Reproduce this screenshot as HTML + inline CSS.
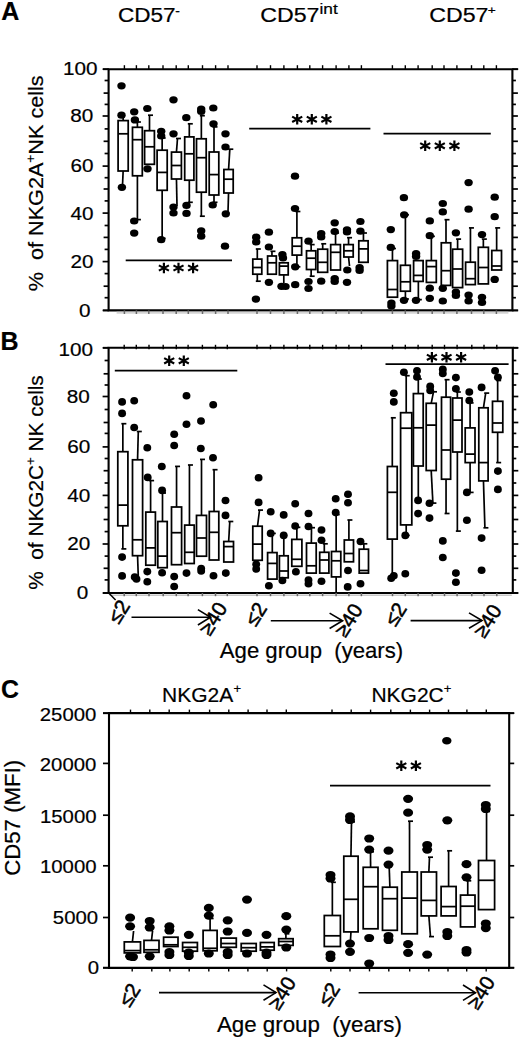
<!DOCTYPE html>
<html><head><meta charset="utf-8"><title>Figure</title>
<style>html,body{margin:0;padding:0;background:#fff;overflow:hidden;width:520px;height:1039px;} svg{display:block;} text{font-family:"Liberation Sans", sans-serif;fill:#000;white-space:pre;stroke:#000;stroke-width:0.2px;}</style>
</head><body>
<svg width="520" height="1039" viewBox="0 0 520 1039">
<rect width="520" height="1039" fill="#fff"/>
<path d="M108.60,69.20H512.40V310.40H108.60Z" stroke="#000" stroke-width="2.1" fill="none"/>
<line x1="103.00" y1="69.20" x2="108.60" y2="69.20" stroke="#000" stroke-width="1.8" stroke-linecap="butt"/>
<line x1="512.40" y1="69.20" x2="518.20" y2="69.20" stroke="#000" stroke-width="1.8" stroke-linecap="butt"/>
<line x1="512.40" y1="310.40" x2="518.20" y2="310.40" stroke="#000" stroke-width="1.8" stroke-linecap="butt"/>
<line x1="103.00" y1="310.40" x2="108.60" y2="310.40" stroke="#000" stroke-width="1.8" stroke-linecap="butt"/>
<line x1="102.60" y1="310.40" x2="108.60" y2="310.40" stroke="#000" stroke-width="1.7" stroke-linecap="butt"/>
<line x1="512.40" y1="310.40" x2="517.90" y2="310.40" stroke="#000" stroke-width="1.7" stroke-linecap="butt"/>
<line x1="104.60" y1="297.70" x2="108.60" y2="297.70" stroke="#000" stroke-width="1.7" stroke-linecap="butt"/>
<line x1="512.40" y1="297.70" x2="515.90" y2="297.70" stroke="#000" stroke-width="1.7" stroke-linecap="butt"/>
<line x1="103.60" y1="286.20" x2="108.60" y2="286.20" stroke="#000" stroke-width="1.7" stroke-linecap="butt"/>
<line x1="512.40" y1="286.20" x2="517.90" y2="286.20" stroke="#000" stroke-width="1.7" stroke-linecap="butt"/>
<line x1="104.60" y1="273.60" x2="108.60" y2="273.60" stroke="#000" stroke-width="1.7" stroke-linecap="butt"/>
<line x1="512.40" y1="273.60" x2="515.90" y2="273.60" stroke="#000" stroke-width="1.7" stroke-linecap="butt"/>
<line x1="102.60" y1="261.60" x2="108.60" y2="261.60" stroke="#000" stroke-width="1.7" stroke-linecap="butt"/>
<line x1="512.40" y1="261.60" x2="517.90" y2="261.60" stroke="#000" stroke-width="1.7" stroke-linecap="butt"/>
<line x1="104.60" y1="249.40" x2="108.60" y2="249.40" stroke="#000" stroke-width="1.7" stroke-linecap="butt"/>
<line x1="512.40" y1="249.40" x2="515.90" y2="249.40" stroke="#000" stroke-width="1.7" stroke-linecap="butt"/>
<line x1="103.60" y1="237.40" x2="108.60" y2="237.40" stroke="#000" stroke-width="1.7" stroke-linecap="butt"/>
<line x1="512.40" y1="237.40" x2="517.90" y2="237.40" stroke="#000" stroke-width="1.7" stroke-linecap="butt"/>
<line x1="104.60" y1="225.50" x2="108.60" y2="225.50" stroke="#000" stroke-width="1.7" stroke-linecap="butt"/>
<line x1="512.40" y1="225.50" x2="515.90" y2="225.50" stroke="#000" stroke-width="1.7" stroke-linecap="butt"/>
<line x1="102.60" y1="213.10" x2="108.60" y2="213.10" stroke="#000" stroke-width="1.7" stroke-linecap="butt"/>
<line x1="512.40" y1="213.10" x2="517.90" y2="213.10" stroke="#000" stroke-width="1.7" stroke-linecap="butt"/>
<line x1="104.60" y1="200.90" x2="108.60" y2="200.90" stroke="#000" stroke-width="1.7" stroke-linecap="butt"/>
<line x1="512.40" y1="200.90" x2="515.90" y2="200.90" stroke="#000" stroke-width="1.7" stroke-linecap="butt"/>
<line x1="103.60" y1="189.00" x2="108.60" y2="189.00" stroke="#000" stroke-width="1.7" stroke-linecap="butt"/>
<line x1="512.40" y1="189.00" x2="517.90" y2="189.00" stroke="#000" stroke-width="1.7" stroke-linecap="butt"/>
<line x1="104.60" y1="177.70" x2="108.60" y2="177.70" stroke="#000" stroke-width="1.7" stroke-linecap="butt"/>
<line x1="512.40" y1="177.70" x2="515.90" y2="177.70" stroke="#000" stroke-width="1.7" stroke-linecap="butt"/>
<line x1="102.60" y1="166.10" x2="108.60" y2="166.10" stroke="#000" stroke-width="1.7" stroke-linecap="butt"/>
<line x1="512.40" y1="166.10" x2="517.90" y2="166.10" stroke="#000" stroke-width="1.7" stroke-linecap="butt"/>
<line x1="104.60" y1="153.50" x2="108.60" y2="153.50" stroke="#000" stroke-width="1.7" stroke-linecap="butt"/>
<line x1="512.40" y1="153.50" x2="515.90" y2="153.50" stroke="#000" stroke-width="1.7" stroke-linecap="butt"/>
<line x1="103.60" y1="141.30" x2="108.60" y2="141.30" stroke="#000" stroke-width="1.7" stroke-linecap="butt"/>
<line x1="512.40" y1="141.30" x2="517.90" y2="141.30" stroke="#000" stroke-width="1.7" stroke-linecap="butt"/>
<line x1="104.60" y1="128.90" x2="108.60" y2="128.90" stroke="#000" stroke-width="1.7" stroke-linecap="butt"/>
<line x1="512.40" y1="128.90" x2="515.90" y2="128.90" stroke="#000" stroke-width="1.7" stroke-linecap="butt"/>
<line x1="102.60" y1="116.00" x2="108.60" y2="116.00" stroke="#000" stroke-width="1.7" stroke-linecap="butt"/>
<line x1="512.40" y1="116.00" x2="517.90" y2="116.00" stroke="#000" stroke-width="1.7" stroke-linecap="butt"/>
<line x1="104.60" y1="104.40" x2="108.60" y2="104.40" stroke="#000" stroke-width="1.7" stroke-linecap="butt"/>
<line x1="512.40" y1="104.40" x2="515.90" y2="104.40" stroke="#000" stroke-width="1.7" stroke-linecap="butt"/>
<line x1="103.60" y1="93.10" x2="108.60" y2="93.10" stroke="#000" stroke-width="1.7" stroke-linecap="butt"/>
<line x1="512.40" y1="93.10" x2="517.90" y2="93.10" stroke="#000" stroke-width="1.7" stroke-linecap="butt"/>
<line x1="104.60" y1="80.50" x2="108.60" y2="80.50" stroke="#000" stroke-width="1.7" stroke-linecap="butt"/>
<line x1="512.40" y1="80.50" x2="515.90" y2="80.50" stroke="#000" stroke-width="1.7" stroke-linecap="butt"/>
<line x1="102.60" y1="69.20" x2="108.60" y2="69.20" stroke="#000" stroke-width="1.7" stroke-linecap="butt"/>
<line x1="512.40" y1="69.20" x2="517.90" y2="69.20" stroke="#000" stroke-width="1.7" stroke-linecap="butt"/>
<line x1="124.40" y1="65.20" x2="124.40" y2="69.20" stroke="#000" stroke-width="1.4" stroke-linecap="butt"/>
<line x1="136.40" y1="65.20" x2="136.40" y2="69.20" stroke="#000" stroke-width="1.4" stroke-linecap="butt"/>
<line x1="148.80" y1="65.20" x2="148.80" y2="69.20" stroke="#000" stroke-width="1.4" stroke-linecap="butt"/>
<line x1="163.00" y1="65.20" x2="163.00" y2="69.20" stroke="#000" stroke-width="1.4" stroke-linecap="butt"/>
<line x1="176.20" y1="65.20" x2="176.20" y2="69.20" stroke="#000" stroke-width="1.4" stroke-linecap="butt"/>
<line x1="188.30" y1="65.20" x2="188.30" y2="69.20" stroke="#000" stroke-width="1.4" stroke-linecap="butt"/>
<line x1="202.50" y1="65.20" x2="202.50" y2="69.20" stroke="#000" stroke-width="1.4" stroke-linecap="butt"/>
<line x1="215.60" y1="65.20" x2="215.60" y2="69.20" stroke="#000" stroke-width="1.4" stroke-linecap="butt"/>
<line x1="228.00" y1="65.20" x2="228.00" y2="69.20" stroke="#000" stroke-width="1.4" stroke-linecap="butt"/>
<line x1="257.00" y1="65.20" x2="257.00" y2="69.20" stroke="#000" stroke-width="1.4" stroke-linecap="butt"/>
<line x1="270.50" y1="65.20" x2="270.50" y2="69.20" stroke="#000" stroke-width="1.4" stroke-linecap="butt"/>
<line x1="283.90" y1="65.20" x2="283.90" y2="69.20" stroke="#000" stroke-width="1.4" stroke-linecap="butt"/>
<line x1="297.40" y1="65.20" x2="297.40" y2="69.20" stroke="#000" stroke-width="1.4" stroke-linecap="butt"/>
<line x1="309.80" y1="65.20" x2="309.80" y2="69.20" stroke="#000" stroke-width="1.4" stroke-linecap="butt"/>
<line x1="322.60" y1="65.20" x2="322.60" y2="69.20" stroke="#000" stroke-width="1.4" stroke-linecap="butt"/>
<line x1="336.10" y1="65.20" x2="336.10" y2="69.20" stroke="#000" stroke-width="1.4" stroke-linecap="butt"/>
<line x1="348.90" y1="65.20" x2="348.90" y2="69.20" stroke="#000" stroke-width="1.4" stroke-linecap="butt"/>
<line x1="361.40" y1="65.20" x2="361.40" y2="69.20" stroke="#000" stroke-width="1.4" stroke-linecap="butt"/>
<line x1="392.40" y1="65.20" x2="392.40" y2="69.20" stroke="#000" stroke-width="1.4" stroke-linecap="butt"/>
<line x1="405.30" y1="65.20" x2="405.30" y2="69.20" stroke="#000" stroke-width="1.4" stroke-linecap="butt"/>
<line x1="418.10" y1="65.20" x2="418.10" y2="69.20" stroke="#000" stroke-width="1.4" stroke-linecap="butt"/>
<line x1="432.20" y1="65.20" x2="432.20" y2="69.20" stroke="#000" stroke-width="1.4" stroke-linecap="butt"/>
<line x1="444.00" y1="65.20" x2="444.00" y2="69.20" stroke="#000" stroke-width="1.4" stroke-linecap="butt"/>
<line x1="456.90" y1="65.20" x2="456.90" y2="69.20" stroke="#000" stroke-width="1.4" stroke-linecap="butt"/>
<line x1="471.50" y1="65.20" x2="471.50" y2="69.20" stroke="#000" stroke-width="1.4" stroke-linecap="butt"/>
<line x1="483.80" y1="65.20" x2="483.80" y2="69.20" stroke="#000" stroke-width="1.4" stroke-linecap="butt"/>
<line x1="496.40" y1="65.20" x2="496.40" y2="69.20" stroke="#000" stroke-width="1.4" stroke-linecap="butt"/>
<line x1="116.60" y1="312.80" x2="508.40" y2="312.80" stroke="#d4d4d4" stroke-width="2.0" stroke-linecap="butt"/>
<line x1="124.40" y1="310.40" x2="124.40" y2="314.00" stroke="#6a6a6a" stroke-width="1.5" stroke-linecap="butt"/>
<line x1="136.40" y1="310.40" x2="136.40" y2="314.00" stroke="#6a6a6a" stroke-width="1.5" stroke-linecap="butt"/>
<line x1="148.80" y1="310.40" x2="148.80" y2="314.00" stroke="#6a6a6a" stroke-width="1.5" stroke-linecap="butt"/>
<line x1="163.00" y1="310.40" x2="163.00" y2="314.00" stroke="#6a6a6a" stroke-width="1.5" stroke-linecap="butt"/>
<line x1="176.20" y1="310.40" x2="176.20" y2="314.00" stroke="#6a6a6a" stroke-width="1.5" stroke-linecap="butt"/>
<line x1="188.30" y1="310.40" x2="188.30" y2="314.00" stroke="#6a6a6a" stroke-width="1.5" stroke-linecap="butt"/>
<line x1="202.50" y1="310.40" x2="202.50" y2="314.00" stroke="#6a6a6a" stroke-width="1.5" stroke-linecap="butt"/>
<line x1="215.60" y1="310.40" x2="215.60" y2="314.00" stroke="#6a6a6a" stroke-width="1.5" stroke-linecap="butt"/>
<line x1="228.00" y1="310.40" x2="228.00" y2="314.00" stroke="#6a6a6a" stroke-width="1.5" stroke-linecap="butt"/>
<line x1="257.00" y1="310.40" x2="257.00" y2="314.00" stroke="#6a6a6a" stroke-width="1.5" stroke-linecap="butt"/>
<line x1="270.50" y1="310.40" x2="270.50" y2="314.00" stroke="#6a6a6a" stroke-width="1.5" stroke-linecap="butt"/>
<line x1="283.90" y1="310.40" x2="283.90" y2="314.00" stroke="#6a6a6a" stroke-width="1.5" stroke-linecap="butt"/>
<line x1="297.40" y1="310.40" x2="297.40" y2="314.00" stroke="#6a6a6a" stroke-width="1.5" stroke-linecap="butt"/>
<line x1="309.80" y1="310.40" x2="309.80" y2="314.00" stroke="#6a6a6a" stroke-width="1.5" stroke-linecap="butt"/>
<line x1="322.60" y1="310.40" x2="322.60" y2="314.00" stroke="#6a6a6a" stroke-width="1.5" stroke-linecap="butt"/>
<line x1="336.10" y1="310.40" x2="336.10" y2="314.00" stroke="#6a6a6a" stroke-width="1.5" stroke-linecap="butt"/>
<line x1="348.90" y1="310.40" x2="348.90" y2="314.00" stroke="#6a6a6a" stroke-width="1.5" stroke-linecap="butt"/>
<line x1="361.40" y1="310.40" x2="361.40" y2="314.00" stroke="#6a6a6a" stroke-width="1.5" stroke-linecap="butt"/>
<line x1="392.40" y1="310.40" x2="392.40" y2="314.00" stroke="#6a6a6a" stroke-width="1.5" stroke-linecap="butt"/>
<line x1="405.30" y1="310.40" x2="405.30" y2="314.00" stroke="#6a6a6a" stroke-width="1.5" stroke-linecap="butt"/>
<line x1="418.10" y1="310.40" x2="418.10" y2="314.00" stroke="#6a6a6a" stroke-width="1.5" stroke-linecap="butt"/>
<line x1="432.20" y1="310.40" x2="432.20" y2="314.00" stroke="#6a6a6a" stroke-width="1.5" stroke-linecap="butt"/>
<line x1="444.00" y1="310.40" x2="444.00" y2="314.00" stroke="#6a6a6a" stroke-width="1.5" stroke-linecap="butt"/>
<line x1="456.90" y1="310.40" x2="456.90" y2="314.00" stroke="#6a6a6a" stroke-width="1.5" stroke-linecap="butt"/>
<line x1="471.50" y1="310.40" x2="471.50" y2="314.00" stroke="#6a6a6a" stroke-width="1.5" stroke-linecap="butt"/>
<line x1="483.80" y1="310.40" x2="483.80" y2="314.00" stroke="#6a6a6a" stroke-width="1.5" stroke-linecap="butt"/>
<line x1="496.40" y1="310.40" x2="496.40" y2="314.00" stroke="#6a6a6a" stroke-width="1.5" stroke-linecap="butt"/>
<text transform="translate(80.15,74.90) scale(1.120,1)" font-size="18.5" font-weight="normal" text-anchor="middle" fill="#000">100</text>
<text transform="translate(81.70,121.60) scale(1.120,1)" font-size="18.5" font-weight="normal" text-anchor="middle" fill="#000">80</text>
<text transform="translate(81.95,172.10) scale(1.120,1)" font-size="18.5" font-weight="normal" text-anchor="middle" fill="#000">60</text>
<text transform="translate(82.00,219.90) scale(1.120,1)" font-size="18.5" font-weight="normal" text-anchor="middle" fill="#000">40</text>
<text transform="translate(82.00,268.20) scale(1.120,1)" font-size="18.5" font-weight="normal" text-anchor="middle" fill="#000">20</text>
<text transform="translate(84.70,316.90) scale(1.120,1)" font-size="18.5" font-weight="normal" text-anchor="middle" fill="#000">0</text>
<path d="M108.60,347.80H512.80V593.00H108.60Z" stroke="#000" stroke-width="2.1" fill="none"/>
<line x1="103.00" y1="347.80" x2="108.60" y2="347.80" stroke="#000" stroke-width="1.8" stroke-linecap="butt"/>
<line x1="512.80" y1="347.80" x2="518.20" y2="347.80" stroke="#000" stroke-width="1.8" stroke-linecap="butt"/>
<line x1="512.80" y1="593.00" x2="518.20" y2="593.00" stroke="#000" stroke-width="1.8" stroke-linecap="butt"/>
<line x1="103.00" y1="593.00" x2="108.60" y2="593.00" stroke="#000" stroke-width="1.8" stroke-linecap="butt"/>
<line x1="102.60" y1="593.00" x2="108.60" y2="593.00" stroke="#000" stroke-width="1.7" stroke-linecap="butt"/>
<line x1="512.80" y1="593.00" x2="518.30" y2="593.00" stroke="#000" stroke-width="1.7" stroke-linecap="butt"/>
<line x1="104.60" y1="579.90" x2="108.60" y2="579.90" stroke="#000" stroke-width="1.7" stroke-linecap="butt"/>
<line x1="512.80" y1="579.90" x2="516.30" y2="579.90" stroke="#000" stroke-width="1.7" stroke-linecap="butt"/>
<line x1="103.60" y1="568.30" x2="108.60" y2="568.30" stroke="#000" stroke-width="1.7" stroke-linecap="butt"/>
<line x1="512.80" y1="568.30" x2="518.30" y2="568.30" stroke="#000" stroke-width="1.7" stroke-linecap="butt"/>
<line x1="104.60" y1="556.10" x2="108.60" y2="556.10" stroke="#000" stroke-width="1.7" stroke-linecap="butt"/>
<line x1="512.80" y1="556.10" x2="516.30" y2="556.10" stroke="#000" stroke-width="1.7" stroke-linecap="butt"/>
<line x1="102.60" y1="544.00" x2="108.60" y2="544.00" stroke="#000" stroke-width="1.7" stroke-linecap="butt"/>
<line x1="512.80" y1="544.00" x2="518.30" y2="544.00" stroke="#000" stroke-width="1.7" stroke-linecap="butt"/>
<line x1="104.60" y1="531.60" x2="108.60" y2="531.60" stroke="#000" stroke-width="1.7" stroke-linecap="butt"/>
<line x1="512.80" y1="531.60" x2="516.30" y2="531.60" stroke="#000" stroke-width="1.7" stroke-linecap="butt"/>
<line x1="103.60" y1="519.50" x2="108.60" y2="519.50" stroke="#000" stroke-width="1.7" stroke-linecap="butt"/>
<line x1="512.80" y1="519.50" x2="518.30" y2="519.50" stroke="#000" stroke-width="1.7" stroke-linecap="butt"/>
<line x1="104.60" y1="507.50" x2="108.60" y2="507.50" stroke="#000" stroke-width="1.7" stroke-linecap="butt"/>
<line x1="512.80" y1="507.50" x2="516.30" y2="507.50" stroke="#000" stroke-width="1.7" stroke-linecap="butt"/>
<line x1="102.60" y1="495.40" x2="108.60" y2="495.40" stroke="#000" stroke-width="1.7" stroke-linecap="butt"/>
<line x1="512.80" y1="495.40" x2="518.30" y2="495.40" stroke="#000" stroke-width="1.7" stroke-linecap="butt"/>
<line x1="104.60" y1="483.00" x2="108.60" y2="483.00" stroke="#000" stroke-width="1.7" stroke-linecap="butt"/>
<line x1="512.80" y1="483.00" x2="516.30" y2="483.00" stroke="#000" stroke-width="1.7" stroke-linecap="butt"/>
<line x1="103.60" y1="470.70" x2="108.60" y2="470.70" stroke="#000" stroke-width="1.7" stroke-linecap="butt"/>
<line x1="512.80" y1="470.70" x2="518.30" y2="470.70" stroke="#000" stroke-width="1.7" stroke-linecap="butt"/>
<line x1="104.60" y1="458.50" x2="108.60" y2="458.50" stroke="#000" stroke-width="1.7" stroke-linecap="butt"/>
<line x1="512.80" y1="458.50" x2="516.30" y2="458.50" stroke="#000" stroke-width="1.7" stroke-linecap="butt"/>
<line x1="102.60" y1="446.90" x2="108.60" y2="446.90" stroke="#000" stroke-width="1.7" stroke-linecap="butt"/>
<line x1="512.80" y1="446.90" x2="518.30" y2="446.90" stroke="#000" stroke-width="1.7" stroke-linecap="butt"/>
<line x1="104.60" y1="433.40" x2="108.60" y2="433.40" stroke="#000" stroke-width="1.7" stroke-linecap="butt"/>
<line x1="512.80" y1="433.40" x2="516.30" y2="433.40" stroke="#000" stroke-width="1.7" stroke-linecap="butt"/>
<line x1="103.60" y1="422.50" x2="108.60" y2="422.50" stroke="#000" stroke-width="1.7" stroke-linecap="butt"/>
<line x1="512.80" y1="422.50" x2="518.30" y2="422.50" stroke="#000" stroke-width="1.7" stroke-linecap="butt"/>
<line x1="104.60" y1="409.50" x2="108.60" y2="409.50" stroke="#000" stroke-width="1.7" stroke-linecap="butt"/>
<line x1="512.80" y1="409.50" x2="516.30" y2="409.50" stroke="#000" stroke-width="1.7" stroke-linecap="butt"/>
<line x1="102.60" y1="396.50" x2="108.60" y2="396.50" stroke="#000" stroke-width="1.7" stroke-linecap="butt"/>
<line x1="512.80" y1="396.50" x2="518.30" y2="396.50" stroke="#000" stroke-width="1.7" stroke-linecap="butt"/>
<line x1="104.60" y1="385.00" x2="108.60" y2="385.00" stroke="#000" stroke-width="1.7" stroke-linecap="butt"/>
<line x1="512.80" y1="385.00" x2="516.30" y2="385.00" stroke="#000" stroke-width="1.7" stroke-linecap="butt"/>
<line x1="103.60" y1="373.80" x2="108.60" y2="373.80" stroke="#000" stroke-width="1.7" stroke-linecap="butt"/>
<line x1="512.80" y1="373.80" x2="518.30" y2="373.80" stroke="#000" stroke-width="1.7" stroke-linecap="butt"/>
<line x1="104.60" y1="360.50" x2="108.60" y2="360.50" stroke="#000" stroke-width="1.7" stroke-linecap="butt"/>
<line x1="512.80" y1="360.50" x2="516.30" y2="360.50" stroke="#000" stroke-width="1.7" stroke-linecap="butt"/>
<line x1="102.60" y1="347.80" x2="108.60" y2="347.80" stroke="#000" stroke-width="1.7" stroke-linecap="butt"/>
<line x1="512.80" y1="347.80" x2="518.30" y2="347.80" stroke="#000" stroke-width="1.7" stroke-linecap="butt"/>
<line x1="124.20" y1="344.80" x2="124.20" y2="349.30" stroke="#000" stroke-width="1.4" stroke-linecap="butt"/>
<line x1="136.30" y1="344.80" x2="136.30" y2="349.30" stroke="#000" stroke-width="1.4" stroke-linecap="butt"/>
<line x1="149.00" y1="344.80" x2="149.00" y2="349.30" stroke="#000" stroke-width="1.4" stroke-linecap="butt"/>
<line x1="163.20" y1="344.80" x2="163.20" y2="349.30" stroke="#000" stroke-width="1.4" stroke-linecap="butt"/>
<line x1="176.30" y1="344.80" x2="176.30" y2="349.30" stroke="#000" stroke-width="1.4" stroke-linecap="butt"/>
<line x1="188.10" y1="344.80" x2="188.10" y2="349.30" stroke="#000" stroke-width="1.4" stroke-linecap="butt"/>
<line x1="202.40" y1="344.80" x2="202.40" y2="349.30" stroke="#000" stroke-width="1.4" stroke-linecap="butt"/>
<line x1="215.50" y1="344.80" x2="215.50" y2="349.30" stroke="#000" stroke-width="1.4" stroke-linecap="butt"/>
<line x1="227.30" y1="344.80" x2="227.30" y2="349.30" stroke="#000" stroke-width="1.4" stroke-linecap="butt"/>
<line x1="257.00" y1="344.80" x2="257.00" y2="349.30" stroke="#000" stroke-width="1.4" stroke-linecap="butt"/>
<line x1="270.50" y1="344.80" x2="270.50" y2="349.30" stroke="#000" stroke-width="1.4" stroke-linecap="butt"/>
<line x1="283.90" y1="344.80" x2="283.90" y2="349.30" stroke="#000" stroke-width="1.4" stroke-linecap="butt"/>
<line x1="297.40" y1="344.80" x2="297.40" y2="349.30" stroke="#000" stroke-width="1.4" stroke-linecap="butt"/>
<line x1="309.80" y1="344.80" x2="309.80" y2="349.30" stroke="#000" stroke-width="1.4" stroke-linecap="butt"/>
<line x1="322.60" y1="344.80" x2="322.60" y2="349.30" stroke="#000" stroke-width="1.4" stroke-linecap="butt"/>
<line x1="336.10" y1="344.80" x2="336.10" y2="349.30" stroke="#000" stroke-width="1.4" stroke-linecap="butt"/>
<line x1="348.90" y1="344.80" x2="348.90" y2="349.30" stroke="#000" stroke-width="1.4" stroke-linecap="butt"/>
<line x1="361.40" y1="344.80" x2="361.40" y2="349.30" stroke="#000" stroke-width="1.4" stroke-linecap="butt"/>
<line x1="392.50" y1="344.80" x2="392.50" y2="349.30" stroke="#000" stroke-width="1.4" stroke-linecap="butt"/>
<line x1="405.30" y1="344.80" x2="405.30" y2="349.30" stroke="#000" stroke-width="1.4" stroke-linecap="butt"/>
<line x1="418.10" y1="344.80" x2="418.10" y2="349.30" stroke="#000" stroke-width="1.4" stroke-linecap="butt"/>
<line x1="432.20" y1="344.80" x2="432.20" y2="349.30" stroke="#000" stroke-width="1.4" stroke-linecap="butt"/>
<line x1="444.50" y1="344.80" x2="444.50" y2="349.30" stroke="#000" stroke-width="1.4" stroke-linecap="butt"/>
<line x1="457.10" y1="344.80" x2="457.10" y2="349.30" stroke="#000" stroke-width="1.4" stroke-linecap="butt"/>
<line x1="471.80" y1="344.80" x2="471.80" y2="349.30" stroke="#000" stroke-width="1.4" stroke-linecap="butt"/>
<line x1="484.00" y1="344.80" x2="484.00" y2="349.30" stroke="#000" stroke-width="1.4" stroke-linecap="butt"/>
<line x1="496.80" y1="344.80" x2="496.80" y2="349.30" stroke="#000" stroke-width="1.4" stroke-linecap="butt"/>
<line x1="109.60" y1="595.20" x2="511.80" y2="595.20" stroke="#c8c8c8" stroke-width="1.6" stroke-linecap="butt"/>
<line x1="124.20" y1="593.00" x2="124.20" y2="596.20" stroke="#666" stroke-width="1.5" stroke-linecap="butt"/>
<line x1="136.30" y1="593.00" x2="136.30" y2="596.20" stroke="#666" stroke-width="1.5" stroke-linecap="butt"/>
<line x1="149.00" y1="593.00" x2="149.00" y2="596.20" stroke="#666" stroke-width="1.5" stroke-linecap="butt"/>
<line x1="163.20" y1="593.00" x2="163.20" y2="596.20" stroke="#666" stroke-width="1.5" stroke-linecap="butt"/>
<line x1="176.30" y1="593.00" x2="176.30" y2="596.20" stroke="#666" stroke-width="1.5" stroke-linecap="butt"/>
<line x1="188.10" y1="593.00" x2="188.10" y2="596.20" stroke="#666" stroke-width="1.5" stroke-linecap="butt"/>
<line x1="202.40" y1="593.00" x2="202.40" y2="596.20" stroke="#666" stroke-width="1.5" stroke-linecap="butt"/>
<line x1="215.50" y1="593.00" x2="215.50" y2="596.20" stroke="#666" stroke-width="1.5" stroke-linecap="butt"/>
<line x1="227.30" y1="593.00" x2="227.30" y2="596.20" stroke="#666" stroke-width="1.5" stroke-linecap="butt"/>
<line x1="257.00" y1="593.00" x2="257.00" y2="596.20" stroke="#666" stroke-width="1.5" stroke-linecap="butt"/>
<line x1="270.50" y1="593.00" x2="270.50" y2="596.20" stroke="#666" stroke-width="1.5" stroke-linecap="butt"/>
<line x1="283.90" y1="593.00" x2="283.90" y2="596.20" stroke="#666" stroke-width="1.5" stroke-linecap="butt"/>
<line x1="297.40" y1="593.00" x2="297.40" y2="596.20" stroke="#666" stroke-width="1.5" stroke-linecap="butt"/>
<line x1="309.80" y1="593.00" x2="309.80" y2="596.20" stroke="#666" stroke-width="1.5" stroke-linecap="butt"/>
<line x1="322.60" y1="593.00" x2="322.60" y2="596.20" stroke="#666" stroke-width="1.5" stroke-linecap="butt"/>
<line x1="336.10" y1="593.00" x2="336.10" y2="596.20" stroke="#666" stroke-width="1.5" stroke-linecap="butt"/>
<line x1="348.90" y1="593.00" x2="348.90" y2="596.20" stroke="#666" stroke-width="1.5" stroke-linecap="butt"/>
<line x1="361.40" y1="593.00" x2="361.40" y2="596.20" stroke="#666" stroke-width="1.5" stroke-linecap="butt"/>
<line x1="392.50" y1="593.00" x2="392.50" y2="596.20" stroke="#666" stroke-width="1.5" stroke-linecap="butt"/>
<line x1="405.30" y1="593.00" x2="405.30" y2="596.20" stroke="#666" stroke-width="1.5" stroke-linecap="butt"/>
<line x1="418.10" y1="593.00" x2="418.10" y2="596.20" stroke="#666" stroke-width="1.5" stroke-linecap="butt"/>
<line x1="432.20" y1="593.00" x2="432.20" y2="596.20" stroke="#666" stroke-width="1.5" stroke-linecap="butt"/>
<line x1="444.50" y1="593.00" x2="444.50" y2="596.20" stroke="#666" stroke-width="1.5" stroke-linecap="butt"/>
<line x1="457.10" y1="593.00" x2="457.10" y2="596.20" stroke="#666" stroke-width="1.5" stroke-linecap="butt"/>
<line x1="471.80" y1="593.00" x2="471.80" y2="596.20" stroke="#666" stroke-width="1.5" stroke-linecap="butt"/>
<line x1="484.00" y1="593.00" x2="484.00" y2="596.20" stroke="#666" stroke-width="1.5" stroke-linecap="butt"/>
<line x1="496.80" y1="593.00" x2="496.80" y2="596.20" stroke="#666" stroke-width="1.5" stroke-linecap="butt"/>
<text transform="translate(75.85,355.60) scale(1.120,1)" font-size="18.5" font-weight="normal" text-anchor="middle" fill="#000">100</text>
<text transform="translate(78.25,402.75) scale(1.120,1)" font-size="18.5" font-weight="normal" text-anchor="middle" fill="#000">80</text>
<text transform="translate(78.75,453.35) scale(1.120,1)" font-size="18.5" font-weight="normal" text-anchor="middle" fill="#000">60</text>
<text transform="translate(78.75,501.95) scale(1.120,1)" font-size="18.5" font-weight="normal" text-anchor="middle" fill="#000">40</text>
<text transform="translate(78.75,550.25) scale(1.120,1)" font-size="18.5" font-weight="normal" text-anchor="middle" fill="#000">20</text>
<text transform="translate(82.60,598.60) scale(1.120,1)" font-size="18.5" font-weight="normal" text-anchor="middle" fill="#000">0</text>
<path d="M109.00,713.10H509.20V967.90H109.00Z" stroke="#000" stroke-width="2.1" fill="none"/>
<line x1="103.00" y1="713.10" x2="109.00" y2="713.10" stroke="#000" stroke-width="1.8" stroke-linecap="butt"/>
<line x1="509.20" y1="713.10" x2="514.20" y2="713.10" stroke="#000" stroke-width="1.8" stroke-linecap="butt"/>
<line x1="509.20" y1="967.90" x2="514.20" y2="967.90" stroke="#000" stroke-width="1.8" stroke-linecap="butt"/>
<line x1="103.00" y1="967.90" x2="109.00" y2="967.90" stroke="#000" stroke-width="1.8" stroke-linecap="butt"/>
<line x1="103.00" y1="967.60" x2="109.00" y2="967.60" stroke="#000" stroke-width="1.7" stroke-linecap="butt"/>
<line x1="509.20" y1="967.60" x2="514.20" y2="967.60" stroke="#000" stroke-width="1.7" stroke-linecap="butt"/>
<line x1="103.00" y1="917.50" x2="109.00" y2="917.50" stroke="#000" stroke-width="1.7" stroke-linecap="butt"/>
<line x1="509.20" y1="917.50" x2="514.20" y2="917.50" stroke="#000" stroke-width="1.7" stroke-linecap="butt"/>
<line x1="103.00" y1="865.80" x2="109.00" y2="865.80" stroke="#000" stroke-width="1.7" stroke-linecap="butt"/>
<line x1="509.20" y1="865.80" x2="514.20" y2="865.80" stroke="#000" stroke-width="1.7" stroke-linecap="butt"/>
<line x1="103.00" y1="815.20" x2="109.00" y2="815.20" stroke="#000" stroke-width="1.7" stroke-linecap="butt"/>
<line x1="509.20" y1="815.20" x2="514.20" y2="815.20" stroke="#000" stroke-width="1.7" stroke-linecap="butt"/>
<line x1="103.00" y1="763.40" x2="109.00" y2="763.40" stroke="#000" stroke-width="1.7" stroke-linecap="butt"/>
<line x1="509.20" y1="763.40" x2="514.20" y2="763.40" stroke="#000" stroke-width="1.7" stroke-linecap="butt"/>
<line x1="103.00" y1="713.30" x2="109.00" y2="713.30" stroke="#000" stroke-width="1.7" stroke-linecap="butt"/>
<line x1="509.20" y1="713.30" x2="514.20" y2="713.30" stroke="#000" stroke-width="1.7" stroke-linecap="butt"/>
<line x1="130.50" y1="709.60" x2="130.50" y2="713.10" stroke="#000" stroke-width="1.4" stroke-linecap="butt"/>
<line x1="149.80" y1="709.60" x2="149.80" y2="713.10" stroke="#000" stroke-width="1.4" stroke-linecap="butt"/>
<line x1="169.20" y1="709.60" x2="169.20" y2="713.10" stroke="#000" stroke-width="1.4" stroke-linecap="butt"/>
<line x1="189.40" y1="709.60" x2="189.40" y2="713.10" stroke="#000" stroke-width="1.4" stroke-linecap="butt"/>
<line x1="209.60" y1="709.60" x2="209.60" y2="713.10" stroke="#000" stroke-width="1.4" stroke-linecap="butt"/>
<line x1="228.80" y1="709.60" x2="228.80" y2="713.10" stroke="#000" stroke-width="1.4" stroke-linecap="butt"/>
<line x1="248.10" y1="709.60" x2="248.10" y2="713.10" stroke="#000" stroke-width="1.4" stroke-linecap="butt"/>
<line x1="267.00" y1="709.60" x2="267.00" y2="713.10" stroke="#000" stroke-width="1.4" stroke-linecap="butt"/>
<line x1="286.30" y1="709.60" x2="286.30" y2="713.10" stroke="#000" stroke-width="1.4" stroke-linecap="butt"/>
<line x1="332.00" y1="709.60" x2="332.00" y2="713.10" stroke="#000" stroke-width="1.4" stroke-linecap="butt"/>
<line x1="351.20" y1="709.60" x2="351.20" y2="713.10" stroke="#000" stroke-width="1.4" stroke-linecap="butt"/>
<line x1="370.60" y1="709.60" x2="370.60" y2="713.10" stroke="#000" stroke-width="1.4" stroke-linecap="butt"/>
<line x1="390.80" y1="709.60" x2="390.80" y2="713.10" stroke="#000" stroke-width="1.4" stroke-linecap="butt"/>
<line x1="410.40" y1="709.60" x2="410.40" y2="713.10" stroke="#000" stroke-width="1.4" stroke-linecap="butt"/>
<line x1="429.60" y1="709.60" x2="429.60" y2="713.10" stroke="#000" stroke-width="1.4" stroke-linecap="butt"/>
<line x1="448.50" y1="709.60" x2="448.50" y2="713.10" stroke="#000" stroke-width="1.4" stroke-linecap="butt"/>
<line x1="466.90" y1="709.60" x2="466.90" y2="713.10" stroke="#000" stroke-width="1.4" stroke-linecap="butt"/>
<line x1="486.30" y1="709.60" x2="486.30" y2="713.10" stroke="#000" stroke-width="1.4" stroke-linecap="butt"/>
<line x1="132.20" y1="967.90" x2="132.20" y2="971.40" stroke="#000" stroke-width="1.4" stroke-linecap="butt"/>
<line x1="151.80" y1="967.90" x2="151.80" y2="971.40" stroke="#000" stroke-width="1.4" stroke-linecap="butt"/>
<line x1="169.90" y1="967.90" x2="169.90" y2="971.40" stroke="#000" stroke-width="1.4" stroke-linecap="butt"/>
<line x1="189.20" y1="967.90" x2="189.20" y2="971.40" stroke="#000" stroke-width="1.4" stroke-linecap="butt"/>
<line x1="208.80" y1="967.90" x2="208.80" y2="971.40" stroke="#000" stroke-width="1.4" stroke-linecap="butt"/>
<line x1="228.70" y1="967.90" x2="228.70" y2="971.40" stroke="#000" stroke-width="1.4" stroke-linecap="butt"/>
<line x1="247.90" y1="967.90" x2="247.90" y2="971.40" stroke="#000" stroke-width="1.4" stroke-linecap="butt"/>
<line x1="267.20" y1="967.90" x2="267.20" y2="971.40" stroke="#000" stroke-width="1.4" stroke-linecap="butt"/>
<line x1="286.60" y1="967.90" x2="286.60" y2="971.40" stroke="#000" stroke-width="1.4" stroke-linecap="butt"/>
<line x1="330.80" y1="967.90" x2="330.80" y2="971.40" stroke="#000" stroke-width="1.4" stroke-linecap="butt"/>
<line x1="350.00" y1="967.90" x2="350.00" y2="971.40" stroke="#000" stroke-width="1.4" stroke-linecap="butt"/>
<line x1="369.50" y1="967.90" x2="369.50" y2="971.40" stroke="#000" stroke-width="1.4" stroke-linecap="butt"/>
<line x1="388.80" y1="967.90" x2="388.80" y2="971.40" stroke="#000" stroke-width="1.4" stroke-linecap="butt"/>
<line x1="409.70" y1="967.90" x2="409.70" y2="971.40" stroke="#000" stroke-width="1.4" stroke-linecap="butt"/>
<line x1="428.80" y1="967.90" x2="428.80" y2="971.40" stroke="#000" stroke-width="1.4" stroke-linecap="butt"/>
<line x1="448.00" y1="967.90" x2="448.00" y2="971.40" stroke="#000" stroke-width="1.4" stroke-linecap="butt"/>
<line x1="466.70" y1="967.90" x2="466.70" y2="971.40" stroke="#000" stroke-width="1.4" stroke-linecap="butt"/>
<line x1="486.20" y1="967.90" x2="486.20" y2="971.40" stroke="#000" stroke-width="1.4" stroke-linecap="butt"/>
<text transform="translate(68.05,720.90) scale(1.100,1)" font-size="18.5" font-weight="normal" text-anchor="middle" fill="#000">25000</text>
<text transform="translate(68.05,771.10) scale(1.100,1)" font-size="18.5" font-weight="normal" text-anchor="middle" fill="#000">20000</text>
<text transform="translate(68.25,823.00) scale(1.100,1)" font-size="18.5" font-weight="normal" text-anchor="middle" fill="#000">15000</text>
<text transform="translate(68.25,873.20) scale(1.100,1)" font-size="18.5" font-weight="normal" text-anchor="middle" fill="#000">10000</text>
<text transform="translate(75.50,923.80) scale(1.100,1)" font-size="18.5" font-weight="normal" text-anchor="middle" fill="#000">5000</text>
<text transform="translate(93.30,973.70) scale(1.100,1)" font-size="18.5" font-weight="normal" text-anchor="middle" fill="#000">0</text>
<g stroke="#000" stroke-width="1.7" fill="none"><line x1="123.15" y1="120.60" x2="123.15" y2="117.00"/><line x1="123.15" y1="171.00" x2="122.50" y2="185.50"/><line x1="137.40" y1="127.30" x2="137.40" y2="122.00"/><line x1="135.90" y1="122.00" x2="140.90" y2="122.00"/><line x1="137.40" y1="175.80" x2="137.40" y2="219.60"/><line x1="135.90" y1="219.60" x2="140.90" y2="219.60"/><line x1="149.50" y1="130.70" x2="149.50" y2="115.20"/><line x1="148.00" y1="115.20" x2="153.00" y2="115.20"/><line x1="162.15" y1="150.20" x2="162.15" y2="138.00"/><line x1="160.65" y1="138.00" x2="165.65" y2="138.00"/><line x1="162.15" y1="190.30" x2="162.15" y2="238.40"/><line x1="160.65" y1="238.40" x2="165.65" y2="238.40"/><line x1="176.45" y1="152.10" x2="177.50" y2="138.50"/><line x1="176.00" y1="138.50" x2="181.00" y2="138.50"/><line x1="176.45" y1="179.00" x2="177.00" y2="206.00"/><line x1="189.30" y1="136.90" x2="189.30" y2="123.80"/><line x1="187.80" y1="123.80" x2="192.80" y2="123.80"/><line x1="189.30" y1="180.20" x2="189.30" y2="202.30"/><line x1="187.80" y1="202.30" x2="192.80" y2="202.30"/><line x1="201.35" y1="138.80" x2="201.35" y2="115.70"/><line x1="199.85" y1="115.70" x2="204.85" y2="115.70"/><line x1="201.35" y1="192.20" x2="201.35" y2="216.20"/><line x1="199.85" y1="216.20" x2="204.85" y2="216.20"/><line x1="214.00" y1="152.00" x2="214.00" y2="126.90"/><line x1="212.50" y1="126.90" x2="217.50" y2="126.90"/><line x1="214.00" y1="195.00" x2="214.00" y2="202.30"/><line x1="212.50" y1="202.30" x2="217.50" y2="202.30"/><line x1="228.55" y1="169.50" x2="229.80" y2="149.20"/><line x1="228.30" y1="149.20" x2="233.30" y2="149.20"/><line x1="228.55" y1="193.00" x2="228.00" y2="212.30"/><line x1="257.30" y1="259.10" x2="257.30" y2="249.00"/><line x1="255.80" y1="249.00" x2="260.80" y2="249.00"/><line x1="257.30" y1="274.20" x2="257.30" y2="281.20"/><line x1="255.80" y1="281.20" x2="260.80" y2="281.20"/><line x1="271.95" y1="256.00" x2="271.95" y2="251.30"/><line x1="270.45" y1="251.30" x2="275.45" y2="251.30"/><line x1="283.80" y1="274.90" x2="283.80" y2="283.00"/><line x1="296.90" y1="237.80" x2="296.90" y2="211.50"/><line x1="295.40" y1="211.50" x2="300.40" y2="211.50"/><line x1="296.90" y1="255.10" x2="296.90" y2="266.80"/><line x1="295.40" y1="266.80" x2="300.40" y2="266.80"/><line x1="311.15" y1="250.80" x2="311.15" y2="244.60"/><line x1="309.65" y1="244.60" x2="314.65" y2="244.60"/><line x1="311.15" y1="269.50" x2="311.15" y2="276.20"/><line x1="309.65" y1="276.20" x2="314.65" y2="276.20"/><line x1="322.70" y1="249.20" x2="322.70" y2="243.80"/><line x1="321.20" y1="243.80" x2="326.20" y2="243.80"/><line x1="335.55" y1="244.60" x2="335.55" y2="233.00"/><line x1="334.05" y1="233.00" x2="339.05" y2="233.00"/><line x1="348.55" y1="244.60" x2="348.55" y2="237.70"/><line x1="347.05" y1="237.70" x2="352.05" y2="237.70"/><line x1="348.55" y1="257.00" x2="349.50" y2="266.00"/><line x1="363.45" y1="240.80" x2="363.45" y2="233.00"/><line x1="361.95" y1="233.00" x2="366.95" y2="233.00"/><line x1="392.45" y1="260.60" x2="392.45" y2="248.50"/><line x1="390.95" y1="248.50" x2="395.95" y2="248.50"/><line x1="405.40" y1="265.30" x2="405.40" y2="214.80"/><line x1="403.90" y1="214.80" x2="408.90" y2="214.80"/><line x1="405.40" y1="291.20" x2="405.40" y2="299.00"/><line x1="403.90" y1="299.00" x2="408.90" y2="299.00"/><line x1="418.35" y1="281.40" x2="418.35" y2="299.60"/><line x1="416.85" y1="299.60" x2="421.85" y2="299.60"/><line x1="431.35" y1="260.60" x2="431.35" y2="236.30"/><line x1="429.85" y1="236.30" x2="434.85" y2="236.30"/><line x1="446.00" y1="242.80" x2="446.00" y2="219.70"/><line x1="444.50" y1="219.70" x2="449.50" y2="219.70"/><line x1="457.60" y1="249.20" x2="457.60" y2="239.10"/><line x1="456.10" y1="239.10" x2="461.10" y2="239.10"/><line x1="470.45" y1="262.20" x2="470.45" y2="227.90"/><line x1="468.95" y1="227.90" x2="473.95" y2="227.90"/><line x1="483.35" y1="247.30" x2="483.35" y2="239.10"/><line x1="481.85" y1="239.10" x2="486.85" y2="239.10"/><line x1="496.65" y1="250.50" x2="496.65" y2="227.90"/><line x1="495.15" y1="227.90" x2="500.15" y2="227.90"/><line x1="122.85" y1="451.70" x2="122.85" y2="423.70"/><line x1="121.35" y1="423.70" x2="126.35" y2="423.70"/><line x1="122.85" y1="525.80" x2="122.85" y2="548.90"/><line x1="121.35" y1="548.90" x2="126.35" y2="548.90"/><line x1="137.55" y1="459.80" x2="138.30" y2="431.50"/><line x1="136.80" y1="431.50" x2="141.80" y2="431.50"/><line x1="137.55" y1="555.70" x2="138.30" y2="577.00"/><line x1="150.60" y1="512.10" x2="150.60" y2="480.60"/><line x1="149.10" y1="480.60" x2="154.10" y2="480.60"/><line x1="162.50" y1="521.50" x2="162.50" y2="493.00"/><line x1="161.00" y1="493.00" x2="166.00" y2="493.00"/><line x1="176.55" y1="507.00" x2="176.55" y2="466.40"/><line x1="175.05" y1="466.40" x2="180.05" y2="466.40"/><line x1="189.45" y1="525.10" x2="189.45" y2="465.00"/><line x1="187.95" y1="465.00" x2="192.95" y2="465.00"/><line x1="201.50" y1="515.40" x2="201.50" y2="459.40"/><line x1="200.00" y1="459.40" x2="205.00" y2="459.40"/><line x1="214.05" y1="511.50" x2="214.05" y2="469.70"/><line x1="212.55" y1="469.70" x2="217.55" y2="469.70"/><line x1="228.65" y1="541.50" x2="229.80" y2="521.50"/><line x1="228.30" y1="521.50" x2="233.30" y2="521.50"/><line x1="257.50" y1="526.20" x2="259.50" y2="510.10"/><line x1="258.00" y1="510.10" x2="263.00" y2="510.10"/><line x1="272.30" y1="552.60" x2="272.30" y2="533.40"/><line x1="270.80" y1="533.40" x2="275.80" y2="533.40"/><line x1="283.80" y1="555.80" x2="283.80" y2="535.40"/><line x1="282.30" y1="535.40" x2="287.30" y2="535.40"/><line x1="296.85" y1="539.40" x2="296.85" y2="527.30"/><line x1="295.35" y1="527.30" x2="300.35" y2="527.30"/><line x1="311.35" y1="543.10" x2="311.50" y2="527.70"/><line x1="310.00" y1="527.70" x2="315.00" y2="527.70"/><line x1="324.30" y1="552.30" x2="324.30" y2="543.80"/><line x1="322.80" y1="543.80" x2="327.80" y2="543.80"/><line x1="336.15" y1="551.50" x2="336.15" y2="514.60"/><line x1="334.65" y1="514.60" x2="339.65" y2="514.60"/><line x1="336.15" y1="576.90" x2="336.15" y2="592.30"/><line x1="348.90" y1="540.00" x2="348.90" y2="520.00"/><line x1="347.40" y1="520.00" x2="352.40" y2="520.00"/><line x1="363.85" y1="549.20" x2="363.85" y2="543.80"/><line x1="362.35" y1="543.80" x2="367.35" y2="543.80"/><line x1="392.30" y1="466.50" x2="392.30" y2="417.80"/><line x1="390.80" y1="417.80" x2="395.80" y2="417.80"/><line x1="392.30" y1="539.10" x2="392.30" y2="575.00"/><line x1="406.20" y1="412.70" x2="406.20" y2="375.70"/><line x1="404.70" y1="375.70" x2="409.70" y2="375.70"/><line x1="406.20" y1="524.90" x2="406.20" y2="535.40"/><line x1="404.70" y1="535.40" x2="409.70" y2="535.40"/><line x1="418.30" y1="393.60" x2="418.30" y2="379.00"/><line x1="416.80" y1="379.00" x2="421.80" y2="379.00"/><line x1="418.30" y1="466.00" x2="418.30" y2="500.40"/><line x1="416.80" y1="500.40" x2="421.80" y2="500.40"/><line x1="431.20" y1="403.30" x2="433.50" y2="391.80"/><line x1="432.00" y1="391.80" x2="437.00" y2="391.80"/><line x1="431.20" y1="470.50" x2="432.90" y2="503.10"/><line x1="431.40" y1="503.10" x2="436.40" y2="503.10"/><line x1="446.05" y1="397.20" x2="446.05" y2="379.70"/><line x1="444.55" y1="379.70" x2="449.55" y2="379.70"/><line x1="446.05" y1="479.20" x2="446.05" y2="513.50"/><line x1="444.55" y1="513.50" x2="449.55" y2="513.50"/><line x1="457.35" y1="398.00" x2="457.35" y2="392.00"/><line x1="455.85" y1="392.00" x2="460.85" y2="392.00"/><line x1="457.35" y1="452.00" x2="457.35" y2="531.10"/><line x1="455.85" y1="531.10" x2="460.85" y2="531.10"/><line x1="470.10" y1="427.90" x2="470.10" y2="402.90"/><line x1="468.60" y1="402.90" x2="473.60" y2="402.90"/><line x1="470.10" y1="462.60" x2="470.10" y2="492.40"/><line x1="468.60" y1="492.40" x2="473.60" y2="492.40"/><line x1="483.45" y1="407.80" x2="485.70" y2="393.10"/><line x1="484.20" y1="393.10" x2="489.20" y2="393.10"/><line x1="483.45" y1="480.90" x2="484.90" y2="527.80"/><line x1="483.40" y1="527.80" x2="488.40" y2="527.80"/><line x1="497.65" y1="401.30" x2="497.65" y2="380.50"/><line x1="496.15" y1="380.50" x2="501.15" y2="380.50"/><line x1="497.65" y1="432.30" x2="497.65" y2="462.60"/><line x1="496.15" y1="462.60" x2="501.15" y2="462.60"/><line x1="132.40" y1="941.90" x2="133.60" y2="931.00"/><line x1="151.50" y1="940.40" x2="152.60" y2="931.00"/><line x1="210.10" y1="930.40" x2="210.10" y2="918.50"/><line x1="208.60" y1="918.50" x2="213.60" y2="918.50"/><line x1="285.90" y1="938.70" x2="285.90" y2="933.80"/><line x1="284.40" y1="933.80" x2="289.40" y2="933.80"/><line x1="332.35" y1="915.50" x2="332.35" y2="882.30"/><line x1="330.85" y1="882.30" x2="335.85" y2="882.30"/><line x1="350.95" y1="856.20" x2="351.50" y2="821.90"/><line x1="350.00" y1="821.90" x2="355.00" y2="821.90"/><line x1="350.95" y1="931.90" x2="350.50" y2="940.00"/><line x1="370.60" y1="867.30" x2="370.50" y2="851.80"/><line x1="369.00" y1="851.80" x2="374.00" y2="851.80"/><line x1="389.90" y1="887.20" x2="389.10" y2="864.60"/><line x1="387.60" y1="864.60" x2="392.60" y2="864.60"/><line x1="409.55" y1="872.00" x2="409.50" y2="821.20"/><line x1="408.00" y1="821.20" x2="413.00" y2="821.20"/><line x1="428.85" y1="872.00" x2="429.50" y2="857.20"/><line x1="428.00" y1="857.20" x2="433.00" y2="857.20"/><line x1="428.85" y1="915.90" x2="430.50" y2="936.60"/><line x1="429.00" y1="936.60" x2="434.00" y2="936.60"/><line x1="448.60" y1="886.50" x2="448.60" y2="850.80"/><line x1="447.10" y1="850.80" x2="452.10" y2="850.80"/><line x1="467.75" y1="895.10" x2="467.75" y2="880.80"/><line x1="466.25" y1="880.80" x2="471.25" y2="880.80"/><line x1="486.55" y1="860.50" x2="486.55" y2="811.50"/><line x1="485.05" y1="811.50" x2="490.05" y2="811.50"/></g>
<g stroke="#000" stroke-width="1.75" fill="#fff"><rect x="118.10" y="120.60" width="10.10" height="50.40"/><line x1="118.10" y1="133.80" x2="128.20" y2="133.80"/><rect x="132.50" y="127.30" width="9.80" height="48.50"/><line x1="132.50" y1="139.70" x2="142.30" y2="139.70"/><rect x="144.60" y="130.70" width="9.80" height="33.60"/><line x1="144.60" y1="146.80" x2="154.40" y2="146.80"/><rect x="157.10" y="150.20" width="10.10" height="40.10"/><line x1="157.10" y1="172.40" x2="167.20" y2="172.40"/><rect x="171.50" y="152.10" width="9.90" height="26.90"/><line x1="171.50" y1="165.50" x2="181.40" y2="165.50"/><rect x="184.70" y="136.90" width="9.20" height="43.30"/><line x1="184.70" y1="153.80" x2="193.90" y2="153.80"/><rect x="196.50" y="138.80" width="9.70" height="53.40"/><line x1="196.50" y1="157.70" x2="206.20" y2="157.70"/><rect x="209.20" y="152.00" width="9.60" height="43.00"/><line x1="209.20" y1="174.60" x2="218.80" y2="174.60"/><rect x="223.90" y="169.50" width="9.30" height="23.50"/><line x1="223.90" y1="179.20" x2="233.20" y2="179.20"/><rect x="252.80" y="259.10" width="9.00" height="15.10"/><line x1="252.80" y1="267.50" x2="261.80" y2="267.50"/><rect x="267.60" y="256.00" width="8.70" height="18.20"/><line x1="267.60" y1="262.80" x2="276.30" y2="262.80"/><rect x="279.40" y="262.80" width="8.80" height="12.10"/><line x1="279.40" y1="266.10" x2="288.20" y2="266.10"/><rect x="292.20" y="237.80" width="9.40" height="17.30"/><line x1="292.20" y1="246.20" x2="301.60" y2="246.20"/><rect x="306.50" y="250.80" width="9.30" height="18.70"/><line x1="306.50" y1="258.20" x2="315.80" y2="258.20"/><rect x="317.80" y="249.20" width="9.80" height="23.10"/><line x1="317.80" y1="262.30" x2="327.60" y2="262.30"/><rect x="330.70" y="244.60" width="9.70" height="25.40"/><line x1="330.70" y1="252.30" x2="340.40" y2="252.30"/><rect x="343.90" y="244.60" width="9.30" height="12.40"/><line x1="343.90" y1="250.80" x2="353.20" y2="250.80"/><rect x="358.80" y="240.80" width="9.30" height="21.50"/><line x1="358.80" y1="248.90" x2="368.10" y2="248.90"/><rect x="387.40" y="260.60" width="10.10" height="36.60"/><line x1="387.40" y1="289.50" x2="397.50" y2="289.50"/><rect x="400.50" y="265.30" width="9.80" height="25.90"/><line x1="400.50" y1="281.80" x2="410.30" y2="281.80"/><rect x="413.60" y="260.60" width="9.50" height="20.80"/><line x1="413.60" y1="275.40" x2="423.10" y2="275.40"/><rect x="426.40" y="260.60" width="9.90" height="21.80"/><line x1="426.40" y1="266.60" x2="436.30" y2="266.60"/><rect x="441.30" y="242.80" width="9.40" height="42.60"/><line x1="441.30" y1="270.70" x2="450.70" y2="270.70"/><rect x="452.60" y="249.20" width="10.00" height="38.40"/><line x1="452.60" y1="269.00" x2="462.60" y2="269.00"/><rect x="465.60" y="262.20" width="9.70" height="22.40"/><line x1="465.60" y1="278.70" x2="475.30" y2="278.70"/><rect x="478.30" y="247.30" width="10.10" height="36.60"/><line x1="478.30" y1="267.50" x2="488.40" y2="267.50"/><rect x="491.80" y="250.50" width="9.70" height="19.50"/><line x1="491.80" y1="266.00" x2="501.50" y2="266.00"/><rect x="117.80" y="451.70" width="10.10" height="74.10"/><line x1="117.80" y1="505.10" x2="127.90" y2="505.10"/><rect x="132.50" y="459.80" width="10.10" height="95.90"/><line x1="132.50" y1="539.80" x2="142.60" y2="539.80"/><rect x="145.80" y="512.10" width="9.60" height="53.10"/><line x1="145.80" y1="547.90" x2="155.40" y2="547.90"/><rect x="157.80" y="521.50" width="9.40" height="46.20"/><line x1="157.80" y1="556.10" x2="167.20" y2="556.10"/><rect x="171.50" y="507.00" width="10.10" height="57.70"/><line x1="171.50" y1="532.70" x2="181.60" y2="532.70"/><rect x="184.70" y="525.10" width="9.50" height="38.40"/><line x1="184.70" y1="552.30" x2="194.20" y2="552.30"/><rect x="196.50" y="515.40" width="10.00" height="40.80"/><line x1="196.50" y1="538.00" x2="206.50" y2="538.00"/><rect x="209.30" y="511.50" width="9.50" height="48.50"/><line x1="209.30" y1="532.30" x2="218.80" y2="532.30"/><rect x="223.80" y="541.50" width="9.70" height="20.50"/><line x1="223.80" y1="546.60" x2="233.50" y2="546.60"/><rect x="252.80" y="526.20" width="9.40" height="34.10"/><line x1="252.80" y1="544.10" x2="262.20" y2="544.10"/><rect x="267.60" y="552.60" width="9.40" height="26.50"/><line x1="267.60" y1="563.40" x2="277.00" y2="563.40"/><rect x="279.40" y="555.80" width="8.80" height="22.00"/><line x1="279.40" y1="571.00" x2="288.20" y2="571.00"/><rect x="291.80" y="539.40" width="10.10" height="26.90"/><line x1="291.80" y1="559.30" x2="301.90" y2="559.30"/><rect x="306.50" y="543.10" width="9.70" height="30.00"/><line x1="306.50" y1="565.80" x2="316.20" y2="565.80"/><rect x="319.70" y="552.30" width="9.20" height="20.80"/><line x1="319.70" y1="560.00" x2="328.90" y2="560.00"/><rect x="331.50" y="551.50" width="9.30" height="25.40"/><line x1="331.50" y1="560.80" x2="340.80" y2="560.80"/><rect x="344.30" y="540.00" width="9.20" height="21.80"/><line x1="344.30" y1="553.50" x2="353.50" y2="553.50"/><rect x="359.20" y="549.20" width="9.30" height="23.90"/><line x1="359.20" y1="570.50" x2="368.50" y2="570.50"/><rect x="387.40" y="466.50" width="9.80" height="72.60"/><line x1="387.40" y1="492.30" x2="397.20" y2="492.30"/><rect x="400.60" y="412.70" width="11.20" height="112.20"/><line x1="400.60" y1="428.20" x2="411.80" y2="428.20"/><rect x="413.40" y="393.60" width="9.80" height="72.40"/><line x1="413.40" y1="427.80" x2="423.20" y2="427.80"/><rect x="426.20" y="403.30" width="10.00" height="67.20"/><line x1="426.20" y1="425.10" x2="436.20" y2="425.10"/><rect x="441.50" y="397.20" width="9.10" height="82.00"/><line x1="441.50" y1="450.00" x2="450.60" y2="450.00"/><rect x="452.70" y="398.00" width="9.30" height="54.00"/><line x1="452.70" y1="420.10" x2="462.00" y2="420.10"/><rect x="465.20" y="427.90" width="9.80" height="34.70"/><line x1="465.20" y1="454.10" x2="475.00" y2="454.10"/><rect x="478.80" y="407.80" width="9.30" height="73.10"/><line x1="478.80" y1="462.60" x2="488.10" y2="462.60"/><rect x="492.50" y="401.30" width="10.30" height="31.00"/><line x1="492.50" y1="423.00" x2="502.80" y2="423.00"/><rect x="124.30" y="941.90" width="16.20" height="11.00"/><line x1="124.30" y1="950.60" x2="140.50" y2="950.60"/><rect x="144.00" y="940.40" width="15.00" height="11.90"/><line x1="144.00" y1="949.80" x2="159.00" y2="949.80"/><rect x="163.60" y="937.20" width="14.40" height="9.30"/><line x1="163.60" y1="944.80" x2="178.00" y2="944.80"/><rect x="182.60" y="942.50" width="14.80" height="8.70"/><line x1="182.60" y1="947.30" x2="197.40" y2="947.30"/><rect x="203.10" y="930.40" width="14.00" height="20.40"/><line x1="203.10" y1="948.30" x2="217.10" y2="948.30"/><rect x="221.00" y="938.10" width="15.30" height="9.20"/><line x1="221.00" y1="943.50" x2="236.30" y2="943.50"/><rect x="241.20" y="943.50" width="15.00" height="7.70"/><line x1="241.20" y1="947.70" x2="256.20" y2="947.70"/><rect x="260.40" y="942.50" width="13.80" height="7.70"/><line x1="260.40" y1="946.90" x2="274.20" y2="946.90"/><rect x="278.70" y="938.70" width="14.40" height="6.70"/><line x1="278.70" y1="941.50" x2="293.10" y2="941.50"/><rect x="324.30" y="915.50" width="16.10" height="31.00"/><line x1="324.30" y1="935.80" x2="340.40" y2="935.80"/><rect x="343.80" y="856.20" width="14.30" height="75.70"/><line x1="343.80" y1="899.30" x2="358.10" y2="899.30"/><rect x="363.20" y="867.30" width="14.80" height="61.50"/><line x1="363.20" y1="886.70" x2="378.00" y2="886.70"/><rect x="382.50" y="887.20" width="14.80" height="43.10"/><line x1="382.50" y1="898.70" x2="397.30" y2="898.70"/><rect x="401.80" y="872.00" width="15.50" height="61.80"/><line x1="401.80" y1="898.10" x2="417.30" y2="898.10"/><rect x="421.20" y="872.00" width="15.30" height="43.90"/><line x1="421.20" y1="900.40" x2="436.50" y2="900.40"/><rect x="441.10" y="886.50" width="15.00" height="29.40"/><line x1="441.10" y1="906.60" x2="456.10" y2="906.60"/><rect x="460.50" y="895.10" width="14.50" height="31.80"/><line x1="460.50" y1="906.20" x2="475.00" y2="906.20"/><rect x="478.50" y="860.50" width="16.10" height="49.10"/><line x1="478.50" y1="880.30" x2="494.60" y2="880.30"/></g>
<g fill="#000"><ellipse cx="121.50" cy="85.80" rx="4.2" ry="3.6"/><ellipse cx="121.50" cy="115.20" rx="4.2" ry="3.6"/><ellipse cx="121.90" cy="187.30" rx="4.2" ry="3.6"/><ellipse cx="134.20" cy="111.80" rx="4.2" ry="3.6"/><ellipse cx="134.90" cy="119.90" rx="4.2" ry="3.6"/><ellipse cx="134.20" cy="221.00" rx="4.2" ry="3.6"/><ellipse cx="134.20" cy="233.10" rx="4.2" ry="3.6"/><ellipse cx="147.30" cy="108.50" rx="4.2" ry="3.6"/><ellipse cx="147.50" cy="168.80" rx="4.2" ry="3.6"/><ellipse cx="161.20" cy="131.30" rx="4.2" ry="3.6"/><ellipse cx="161.20" cy="136.00" rx="4.2" ry="3.6"/><ellipse cx="161.20" cy="239.70" rx="4.2" ry="3.6"/><ellipse cx="173.50" cy="99.80" rx="4.2" ry="3.6"/><ellipse cx="173.50" cy="133.80" rx="4.2" ry="3.6"/><ellipse cx="173.50" cy="207.00" rx="4.2" ry="3.6"/><ellipse cx="173.50" cy="213.00" rx="4.2" ry="3.6"/><ellipse cx="186.30" cy="117.70" rx="4.2" ry="3.6"/><ellipse cx="186.50" cy="205.40" rx="4.2" ry="3.6"/><ellipse cx="186.50" cy="213.40" rx="4.2" ry="3.6"/><ellipse cx="201.20" cy="109.00" rx="4.2" ry="3.6"/><ellipse cx="201.20" cy="111.50" rx="4.2" ry="3.6"/><ellipse cx="201.20" cy="230.80" rx="4.2" ry="3.6"/><ellipse cx="201.20" cy="236.20" rx="4.2" ry="3.6"/><ellipse cx="213.30" cy="108.00" rx="4.2" ry="3.6"/><ellipse cx="213.50" cy="123.80" rx="4.2" ry="3.6"/><ellipse cx="212.70" cy="205.00" rx="4.2" ry="3.6"/><ellipse cx="225.50" cy="133.80" rx="4.2" ry="3.6"/><ellipse cx="225.50" cy="147.00" rx="4.2" ry="3.6"/><ellipse cx="225.80" cy="213.80" rx="4.2" ry="3.6"/><ellipse cx="225.00" cy="246.20" rx="4.2" ry="3.6"/><ellipse cx="256.20" cy="237.20" rx="4.2" ry="3.6"/><ellipse cx="256.20" cy="242.00" rx="4.2" ry="3.6"/><ellipse cx="255.90" cy="299.10" rx="4.2" ry="3.6"/><ellipse cx="268.90" cy="232.20" rx="4.2" ry="3.6"/><ellipse cx="268.90" cy="247.00" rx="4.2" ry="3.6"/><ellipse cx="268.90" cy="282.30" rx="4.2" ry="3.6"/><ellipse cx="282.40" cy="254.70" rx="4.2" ry="3.6"/><ellipse cx="283.00" cy="258.00" rx="4.2" ry="3.6"/><ellipse cx="281.50" cy="286.30" rx="4.2" ry="3.6"/><ellipse cx="285.50" cy="286.50" rx="4.2" ry="3.6"/><ellipse cx="295.00" cy="176.20" rx="4.2" ry="3.6"/><ellipse cx="295.00" cy="208.50" rx="4.2" ry="3.6"/><ellipse cx="295.20" cy="266.80" rx="4.2" ry="3.6"/><ellipse cx="295.20" cy="284.70" rx="4.2" ry="3.6"/><ellipse cx="308.50" cy="241.20" rx="4.2" ry="3.6"/><ellipse cx="308.50" cy="281.50" rx="4.2" ry="3.6"/><ellipse cx="308.50" cy="288.50" rx="4.2" ry="3.6"/><ellipse cx="321.20" cy="233.50" rx="4.2" ry="3.6"/><ellipse cx="321.20" cy="237.00" rx="4.2" ry="3.6"/><ellipse cx="321.20" cy="281.20" rx="4.2" ry="3.6"/><ellipse cx="334.70" cy="222.80" rx="4.2" ry="3.6"/><ellipse cx="334.70" cy="231.50" rx="4.2" ry="3.6"/><ellipse cx="334.70" cy="278.50" rx="4.2" ry="3.6"/><ellipse cx="334.70" cy="281.50" rx="4.2" ry="3.6"/><ellipse cx="347.00" cy="229.80" rx="4.2" ry="3.6"/><ellipse cx="347.00" cy="232.00" rx="4.2" ry="3.6"/><ellipse cx="347.30" cy="270.00" rx="4.2" ry="3.6"/><ellipse cx="347.00" cy="282.30" rx="4.2" ry="3.6"/><ellipse cx="360.40" cy="221.50" rx="4.2" ry="3.6"/><ellipse cx="360.40" cy="231.20" rx="4.2" ry="3.6"/><ellipse cx="359.60" cy="267.70" rx="4.2" ry="3.6"/><ellipse cx="359.60" cy="270.50" rx="4.2" ry="3.6"/><ellipse cx="390.80" cy="229.60" rx="4.2" ry="3.6"/><ellipse cx="390.80" cy="247.40" rx="4.2" ry="3.6"/><ellipse cx="391.40" cy="303.00" rx="4.2" ry="3.6"/><ellipse cx="391.40" cy="306.00" rx="4.2" ry="3.6"/><ellipse cx="403.90" cy="197.70" rx="4.2" ry="3.6"/><ellipse cx="404.20" cy="214.80" rx="4.2" ry="3.6"/><ellipse cx="404.00" cy="300.30" rx="4.2" ry="3.6"/><ellipse cx="416.10" cy="253.50" rx="4.2" ry="3.6"/><ellipse cx="416.10" cy="256.50" rx="4.2" ry="3.6"/><ellipse cx="416.00" cy="300.30" rx="4.2" ry="3.6"/><ellipse cx="429.80" cy="220.90" rx="4.2" ry="3.6"/><ellipse cx="429.80" cy="235.70" rx="4.2" ry="3.6"/><ellipse cx="429.80" cy="288.20" rx="4.2" ry="3.6"/><ellipse cx="429.80" cy="298.30" rx="4.2" ry="3.6"/><ellipse cx="442.80" cy="203.50" rx="4.2" ry="3.6"/><ellipse cx="442.80" cy="211.90" rx="4.2" ry="3.6"/><ellipse cx="442.80" cy="288.30" rx="4.2" ry="3.6"/><ellipse cx="442.80" cy="301.00" rx="4.2" ry="3.6"/><ellipse cx="455.90" cy="232.80" rx="4.2" ry="3.6"/><ellipse cx="455.90" cy="292.00" rx="4.2" ry="3.6"/><ellipse cx="455.90" cy="295.50" rx="4.2" ry="3.6"/><ellipse cx="468.60" cy="182.60" rx="4.2" ry="3.6"/><ellipse cx="468.60" cy="209.20" rx="4.2" ry="3.6"/><ellipse cx="468.60" cy="295.10" rx="4.2" ry="3.6"/><ellipse cx="468.60" cy="301.00" rx="4.2" ry="3.6"/><ellipse cx="482.00" cy="234.60" rx="4.2" ry="3.6"/><ellipse cx="482.00" cy="297.30" rx="4.2" ry="3.6"/><ellipse cx="482.00" cy="302.50" rx="4.2" ry="3.6"/><ellipse cx="494.70" cy="197.20" rx="4.2" ry="3.6"/><ellipse cx="494.70" cy="216.70" rx="4.2" ry="3.6"/><ellipse cx="494.70" cy="279.40" rx="4.2" ry="3.6"/><ellipse cx="122.10" cy="401.90" rx="3.95" ry="3.8"/><ellipse cx="122.10" cy="413.40" rx="3.95" ry="3.8"/><ellipse cx="122.10" cy="557.10" rx="3.95" ry="3.8"/><ellipse cx="122.10" cy="575.90" rx="3.95" ry="3.8"/><ellipse cx="134.20" cy="400.80" rx="3.95" ry="3.8"/><ellipse cx="134.20" cy="427.50" rx="3.95" ry="3.8"/><ellipse cx="134.70" cy="577.00" rx="3.95" ry="3.8"/><ellipse cx="136.50" cy="579.00" rx="3.95" ry="3.8"/><ellipse cx="147.30" cy="447.70" rx="3.95" ry="3.8"/><ellipse cx="147.70" cy="477.40" rx="3.95" ry="3.8"/><ellipse cx="147.30" cy="571.60" rx="3.95" ry="3.8"/><ellipse cx="147.30" cy="581.70" rx="3.95" ry="3.8"/><ellipse cx="161.80" cy="466.50" rx="3.95" ry="3.8"/><ellipse cx="162.10" cy="490.40" rx="3.95" ry="3.8"/><ellipse cx="162.10" cy="572.70" rx="3.95" ry="3.8"/><ellipse cx="174.20" cy="434.20" rx="3.95" ry="3.8"/><ellipse cx="174.20" cy="445.50" rx="3.95" ry="3.8"/><ellipse cx="174.20" cy="576.60" rx="3.95" ry="3.8"/><ellipse cx="174.20" cy="586.50" rx="3.95" ry="3.8"/><ellipse cx="186.50" cy="395.80" rx="3.95" ry="3.8"/><ellipse cx="186.50" cy="424.30" rx="3.95" ry="3.8"/><ellipse cx="186.50" cy="573.10" rx="3.95" ry="3.8"/><ellipse cx="201.00" cy="421.00" rx="3.95" ry="3.8"/><ellipse cx="200.80" cy="448.50" rx="3.95" ry="3.8"/><ellipse cx="201.20" cy="568.50" rx="3.95" ry="3.8"/><ellipse cx="201.20" cy="571.00" rx="3.95" ry="3.8"/><ellipse cx="213.20" cy="404.80" rx="3.95" ry="3.8"/><ellipse cx="213.00" cy="457.80" rx="3.95" ry="3.8"/><ellipse cx="213.50" cy="575.80" rx="3.95" ry="3.8"/><ellipse cx="225.50" cy="500.50" rx="3.95" ry="3.8"/><ellipse cx="225.50" cy="515.40" rx="3.95" ry="3.8"/><ellipse cx="225.80" cy="573.10" rx="3.95" ry="3.8"/><ellipse cx="258.60" cy="477.80" rx="3.95" ry="3.8"/><ellipse cx="258.60" cy="502.40" rx="3.95" ry="3.8"/><ellipse cx="256.20" cy="564.30" rx="3.95" ry="3.8"/><ellipse cx="256.20" cy="569.00" rx="3.95" ry="3.8"/><ellipse cx="270.70" cy="511.80" rx="3.95" ry="3.8"/><ellipse cx="270.70" cy="533.40" rx="3.95" ry="3.8"/><ellipse cx="268.90" cy="585.80" rx="3.95" ry="3.8"/><ellipse cx="283.70" cy="514.90" rx="3.95" ry="3.8"/><ellipse cx="283.70" cy="535.40" rx="3.95" ry="3.8"/><ellipse cx="282.40" cy="580.50" rx="3.95" ry="3.8"/><ellipse cx="295.20" cy="503.70" rx="3.95" ry="3.8"/><ellipse cx="295.20" cy="526.00" rx="3.95" ry="3.8"/><ellipse cx="295.90" cy="571.70" rx="3.95" ry="3.8"/><ellipse cx="308.50" cy="513.50" rx="3.95" ry="3.8"/><ellipse cx="308.50" cy="526.50" rx="3.95" ry="3.8"/><ellipse cx="308.50" cy="580.00" rx="3.95" ry="3.8"/><ellipse cx="308.50" cy="583.80" rx="3.95" ry="3.8"/><ellipse cx="321.50" cy="530.00" rx="3.95" ry="3.8"/><ellipse cx="321.50" cy="540.30" rx="3.95" ry="3.8"/><ellipse cx="321.50" cy="581.20" rx="3.95" ry="3.8"/><ellipse cx="335.70" cy="498.80" rx="3.95" ry="3.8"/><ellipse cx="335.70" cy="512.60" rx="3.95" ry="3.8"/><ellipse cx="348.00" cy="494.20" rx="3.95" ry="3.8"/><ellipse cx="348.00" cy="502.80" rx="3.95" ry="3.8"/><ellipse cx="348.00" cy="570.50" rx="3.95" ry="3.8"/><ellipse cx="347.70" cy="586.90" rx="3.95" ry="3.8"/><ellipse cx="360.50" cy="541.50" rx="3.95" ry="3.8"/><ellipse cx="360.50" cy="583.80" rx="3.95" ry="3.8"/><ellipse cx="393.80" cy="393.20" rx="3.95" ry="3.8"/><ellipse cx="393.80" cy="401.90" rx="3.95" ry="3.8"/><ellipse cx="391.20" cy="578.20" rx="3.95" ry="3.8"/><ellipse cx="393.80" cy="575.70" rx="3.95" ry="3.8"/><ellipse cx="403.90" cy="372.30" rx="3.95" ry="3.8"/><ellipse cx="405.30" cy="535.40" rx="3.95" ry="3.8"/><ellipse cx="405.30" cy="573.70" rx="3.95" ry="3.8"/><ellipse cx="417.00" cy="370.70" rx="3.95" ry="3.8"/><ellipse cx="417.00" cy="377.00" rx="3.95" ry="3.8"/><ellipse cx="418.10" cy="500.40" rx="3.95" ry="3.8"/><ellipse cx="418.10" cy="513.60" rx="3.95" ry="3.8"/><ellipse cx="430.20" cy="386.40" rx="3.95" ry="3.8"/><ellipse cx="430.20" cy="390.50" rx="3.95" ry="3.8"/><ellipse cx="429.50" cy="503.30" rx="3.95" ry="3.8"/><ellipse cx="429.50" cy="518.10" rx="3.95" ry="3.8"/><ellipse cx="442.80" cy="369.40" rx="3.95" ry="3.8"/><ellipse cx="442.80" cy="373.50" rx="3.95" ry="3.8"/><ellipse cx="442.80" cy="540.90" rx="3.95" ry="3.8"/><ellipse cx="442.80" cy="557.50" rx="3.95" ry="3.8"/><ellipse cx="455.90" cy="377.60" rx="3.95" ry="3.8"/><ellipse cx="455.90" cy="388.70" rx="3.95" ry="3.8"/><ellipse cx="455.90" cy="573.10" rx="3.95" ry="3.8"/><ellipse cx="455.90" cy="582.30" rx="3.95" ry="3.8"/><ellipse cx="469.30" cy="392.00" rx="3.95" ry="3.8"/><ellipse cx="469.30" cy="400.50" rx="3.95" ry="3.8"/><ellipse cx="466.90" cy="492.40" rx="3.95" ry="3.8"/><ellipse cx="466.90" cy="520.20" rx="3.95" ry="3.8"/><ellipse cx="481.60" cy="387.40" rx="3.95" ry="3.8"/><ellipse cx="481.60" cy="538.10" rx="3.95" ry="3.8"/><ellipse cx="481.60" cy="570.30" rx="3.95" ry="3.8"/><ellipse cx="495.10" cy="370.70" rx="3.95" ry="3.8"/><ellipse cx="497.90" cy="377.30" rx="3.95" ry="3.8"/><ellipse cx="497.90" cy="471.10" rx="3.95" ry="3.8"/><ellipse cx="497.90" cy="489.40" rx="3.95" ry="3.8"/><ellipse cx="130.10" cy="917.70" rx="5.0" ry="4.1"/><ellipse cx="130.10" cy="926.30" rx="5.0" ry="4.1"/><ellipse cx="130.10" cy="956.30" rx="5.0" ry="4.1"/><ellipse cx="133.00" cy="957.00" rx="5.0" ry="4.1"/><ellipse cx="149.70" cy="921.00" rx="5.0" ry="4.1"/><ellipse cx="149.70" cy="927.50" rx="5.0" ry="4.1"/><ellipse cx="149.70" cy="956.30" rx="5.0" ry="4.1"/><ellipse cx="169.40" cy="926.30" rx="5.0" ry="4.1"/><ellipse cx="169.40" cy="930.50" rx="5.0" ry="4.1"/><ellipse cx="169.40" cy="952.00" rx="5.0" ry="4.1"/><ellipse cx="169.40" cy="955.00" rx="5.0" ry="4.1"/><ellipse cx="188.80" cy="934.80" rx="5.0" ry="4.1"/><ellipse cx="188.80" cy="952.50" rx="5.0" ry="4.1"/><ellipse cx="188.80" cy="956.00" rx="5.0" ry="4.1"/><ellipse cx="208.80" cy="907.90" rx="5.0" ry="4.1"/><ellipse cx="208.80" cy="915.60" rx="5.0" ry="4.1"/><ellipse cx="208.80" cy="953.50" rx="5.0" ry="4.1"/><ellipse cx="227.70" cy="920.40" rx="5.0" ry="4.1"/><ellipse cx="227.70" cy="931.50" rx="5.0" ry="4.1"/><ellipse cx="227.70" cy="952.00" rx="5.0" ry="4.1"/><ellipse cx="227.70" cy="955.00" rx="5.0" ry="4.1"/><ellipse cx="247.00" cy="899.60" rx="5.0" ry="4.1"/><ellipse cx="247.00" cy="932.90" rx="5.0" ry="4.1"/><ellipse cx="247.00" cy="953.50" rx="5.0" ry="4.1"/><ellipse cx="266.50" cy="934.80" rx="5.0" ry="4.1"/><ellipse cx="266.50" cy="952.70" rx="5.0" ry="4.1"/><ellipse cx="266.50" cy="955.00" rx="5.0" ry="4.1"/><ellipse cx="286.30" cy="916.20" rx="5.0" ry="4.1"/><ellipse cx="286.30" cy="929.60" rx="5.0" ry="4.1"/><ellipse cx="286.30" cy="947.50" rx="5.0" ry="4.1"/><ellipse cx="330.50" cy="875.00" rx="5.0" ry="4.1"/><ellipse cx="330.50" cy="878.50" rx="5.0" ry="4.1"/><ellipse cx="330.50" cy="954.50" rx="5.0" ry="4.1"/><ellipse cx="330.50" cy="958.00" rx="5.0" ry="4.1"/><ellipse cx="350.00" cy="816.40" rx="5.0" ry="4.1"/><ellipse cx="350.00" cy="820.00" rx="5.0" ry="4.1"/><ellipse cx="350.00" cy="943.60" rx="5.0" ry="4.1"/><ellipse cx="350.00" cy="951.80" rx="5.0" ry="4.1"/><ellipse cx="369.20" cy="838.50" rx="5.0" ry="4.1"/><ellipse cx="369.20" cy="849.60" rx="5.0" ry="4.1"/><ellipse cx="369.20" cy="938.00" rx="5.0" ry="4.1"/><ellipse cx="369.20" cy="963.50" rx="5.0" ry="4.1"/><ellipse cx="388.50" cy="850.70" rx="5.0" ry="4.1"/><ellipse cx="388.50" cy="864.60" rx="5.0" ry="4.1"/><ellipse cx="388.50" cy="936.00" rx="5.0" ry="4.1"/><ellipse cx="388.50" cy="940.00" rx="5.0" ry="4.1"/><ellipse cx="408.10" cy="798.80" rx="5.0" ry="4.1"/><ellipse cx="408.10" cy="812.70" rx="5.0" ry="4.1"/><ellipse cx="408.10" cy="944.20" rx="5.0" ry="4.1"/><ellipse cx="408.10" cy="952.80" rx="5.0" ry="4.1"/><ellipse cx="427.20" cy="845.00" rx="5.0" ry="4.1"/><ellipse cx="427.20" cy="849.60" rx="5.0" ry="4.1"/><ellipse cx="427.20" cy="954.60" rx="5.0" ry="4.1"/><ellipse cx="446.80" cy="740.70" rx="4.7" ry="3.8"/><ellipse cx="447.30" cy="820.30" rx="5.0" ry="4.1"/><ellipse cx="447.30" cy="932.00" rx="5.0" ry="4.1"/><ellipse cx="447.30" cy="936.00" rx="5.0" ry="4.1"/><ellipse cx="466.50" cy="864.20" rx="5.0" ry="4.1"/><ellipse cx="466.50" cy="877.30" rx="5.0" ry="4.1"/><ellipse cx="466.50" cy="950.00" rx="5.0" ry="4.1"/><ellipse cx="466.50" cy="952.50" rx="5.0" ry="4.1"/><ellipse cx="485.80" cy="805.00" rx="5.0" ry="4.1"/><ellipse cx="485.80" cy="809.00" rx="5.0" ry="4.1"/><ellipse cx="485.80" cy="923.50" rx="5.0" ry="4.1"/><ellipse cx="485.80" cy="928.10" rx="5.0" ry="4.1"/></g>
<line x1="125.70" y1="260.30" x2="232.00" y2="260.30" stroke="#000" stroke-width="1.8" stroke-linecap="butt"/>
<path d="M163.90,262.70V273.30M158.87,265.35L168.94,270.65M158.87,270.65L168.94,265.35" stroke="#000" stroke-width="2.2" fill="none"/>
<path d="M178.50,262.70V273.30M173.47,265.35L183.53,270.65M173.47,270.65L183.53,265.35" stroke="#000" stroke-width="2.2" fill="none"/>
<path d="M193.10,262.70V273.30M188.06,265.35L198.13,270.65M188.06,270.65L198.13,265.35" stroke="#000" stroke-width="2.2" fill="none"/>
<line x1="249.20" y1="128.60" x2="370.40" y2="128.60" stroke="#000" stroke-width="1.8" stroke-linecap="butt"/>
<path d="M297.20,114.00V124.60M292.16,116.65L302.24,121.95M292.16,121.95L302.24,116.65" stroke="#000" stroke-width="2.2" fill="none"/>
<path d="M311.80,114.00V124.60M306.76,116.65L316.84,121.95M306.76,121.95L316.84,116.65" stroke="#000" stroke-width="2.2" fill="none"/>
<path d="M326.40,114.00V124.60M321.36,116.65L331.44,121.95M321.36,121.95L331.44,116.65" stroke="#000" stroke-width="2.2" fill="none"/>
<line x1="383.50" y1="133.70" x2="490.80" y2="133.70" stroke="#000" stroke-width="1.8" stroke-linecap="butt"/>
<path d="M425.20,140.50V151.10M420.16,143.15L430.24,148.45M420.16,148.45L430.24,143.15" stroke="#000" stroke-width="2.2" fill="none"/>
<path d="M439.80,140.50V151.10M434.76,143.15L444.84,148.45M434.76,148.45L444.84,143.15" stroke="#000" stroke-width="2.2" fill="none"/>
<path d="M454.40,140.50V151.10M449.36,143.15L459.44,148.45M449.36,148.45L459.44,143.15" stroke="#000" stroke-width="2.2" fill="none"/>
<line x1="114.80" y1="370.60" x2="237.30" y2="370.60" stroke="#000" stroke-width="1.8" stroke-linecap="butt"/>
<path d="M169.20,355.50V366.10M164.16,358.15L174.23,363.45M164.16,363.45L174.23,358.15" stroke="#000" stroke-width="2.2" fill="none"/>
<path d="M183.80,355.50V366.10M178.76,358.15L188.83,363.45M178.76,363.45L188.83,358.15" stroke="#000" stroke-width="2.2" fill="none"/>
<line x1="385.50" y1="364.20" x2="508.60" y2="364.20" stroke="#000" stroke-width="1.8" stroke-linecap="butt"/>
<path d="M431.90,352.00V362.60M426.86,354.65L436.94,359.95M426.86,359.95L436.94,354.65" stroke="#000" stroke-width="2.2" fill="none"/>
<path d="M446.50,352.00V362.60M441.46,354.65L451.54,359.95M441.46,359.95L451.54,354.65" stroke="#000" stroke-width="2.2" fill="none"/>
<path d="M461.10,352.00V362.60M456.06,354.65L466.13,359.95M456.06,359.95L466.13,354.65" stroke="#000" stroke-width="2.2" fill="none"/>
<line x1="330.00" y1="785.70" x2="490.50" y2="785.70" stroke="#000" stroke-width="1.8" stroke-linecap="butt"/>
<path d="M401.30,760.50V771.10M396.26,763.15L406.34,768.45M396.26,768.45L406.34,763.15" stroke="#000" stroke-width="2.2" fill="none"/>
<path d="M415.90,760.50V771.10M410.87,763.15L420.94,768.45M410.87,768.45L420.94,763.15" stroke="#000" stroke-width="2.2" fill="none"/>
<text transform="translate(1.20,19.60)" font-size="25" font-weight="bold" text-anchor="start" fill="#000">A</text>
<text transform="translate(0.50,350.40)" font-size="25" font-weight="bold" text-anchor="start" fill="#000">B</text>
<text transform="translate(1.00,697.60) scale(0.940,1)" font-size="26.5" font-weight="bold" text-anchor="start" fill="#000">C</text>
<text transform="translate(118.00,22.20) scale(1.162,1)" font-size="19.4">CD57<tspan font-size="12" dy="-7.5" dx="-0.3">-</tspan></text>
<text transform="translate(260.20,22.20) scale(1.195,1)" font-size="19.4">CD57<tspan font-size="14.5" dy="-8" dx="0.0">int</tspan></text>
<text transform="translate(429.20,22.40) scale(1.195,1)" font-size="19.4">CD57<tspan font-size="11.5" dy="-8.5" dx="-0.5">+</tspan></text>
<text transform="translate(162.00,701.50) scale(1.0,1)" font-size="21">NKG2A<tspan font-size="13" dy="-9" dx="0.2">+</tspan></text>
<text transform="translate(371.40,701.50) scale(1.0,1)" font-size="21">NKG2C<tspan font-size="13" dy="-9" dx="0.0">+</tspan></text>
<text transform="translate(43.10,183.30) rotate(-90) scale(1.055,1)" font-size="20.5" text-anchor="middle">%  of NKG2A<tspan font-size="13" dy="-8">+</tspan><tspan dy="8">NK cells</tspan></text>
<text transform="translate(43.30,482.50) rotate(-90) scale(1.015,1)" font-size="20.5" text-anchor="middle">%  of NKG2C<tspan font-size="13" dy="-8">+</tspan><tspan dy="8"> NK cells</tspan></text>
<text transform="translate(20.40,817.80) rotate(-90) scale(1.035,1)" font-size="21.5" text-anchor="middle">CD57 (MFI)</text>
<text transform="translate(118.60,611.50) rotate(-58)" font-size="20.5" text-anchor="middle" dy="0.35em" style="stroke-width:0.5px">≤2</text>
<text transform="translate(213.00,618.50) rotate(-58)" font-size="20.5" text-anchor="middle" dy="0.35em" style="stroke-width:0.5px">≥40</text>
<text transform="translate(255.70,614.00) rotate(-58)" font-size="20.5" text-anchor="middle" dy="0.35em" style="stroke-width:0.5px">≤2</text>
<text transform="translate(348.50,620.00) rotate(-58)" font-size="20.5" text-anchor="middle" dy="0.35em" style="stroke-width:0.5px">≥40</text>
<text transform="translate(395.40,614.10) rotate(-58)" font-size="20.5" text-anchor="middle" dy="0.35em" style="stroke-width:0.5px">≤2</text>
<text transform="translate(487.50,620.80) rotate(-58)" font-size="20.5" text-anchor="middle" dy="0.35em" style="stroke-width:0.5px">≥40</text>
<text transform="translate(129.30,994.90) rotate(-58)" font-size="20.5" text-anchor="middle" dy="0.35em" style="stroke-width:0.5px">≤2</text>
<text transform="translate(281.70,993.00) rotate(-58)" font-size="20.5" text-anchor="middle" dy="0.35em" style="stroke-width:0.5px">≥40</text>
<text transform="translate(328.70,994.10) rotate(-58)" font-size="20.5" text-anchor="middle" dy="0.35em" style="stroke-width:0.5px">≤2</text>
<text transform="translate(480.60,992.50) rotate(-58)" font-size="20.5" text-anchor="middle" dy="0.35em" style="stroke-width:0.5px">≥40</text>
<line x1="131.50" y1="617.30" x2="210.50" y2="617.30" stroke="#000" stroke-width="1.6" stroke-linecap="butt"/>
<path d="M197.90,609.60L210.50,617.30L197.90,625.00" stroke="#000" stroke-width="1.6" fill="none"/>
<line x1="270.80" y1="620.80" x2="342.60" y2="620.80" stroke="#000" stroke-width="1.6" stroke-linecap="butt"/>
<path d="M329.60,613.10L342.60,620.80L329.60,628.50" stroke="#000" stroke-width="1.6" fill="none"/>
<line x1="410.60" y1="620.60" x2="482.00" y2="620.60" stroke="#000" stroke-width="1.6" stroke-linecap="butt"/>
<path d="M469.00,612.90L482.00,620.60L469.00,628.30" stroke="#000" stroke-width="1.6" fill="none"/>
<line x1="159.00" y1="992.60" x2="276.00" y2="992.60" stroke="#000" stroke-width="1.6" stroke-linecap="butt"/>
<path d="M263.50,984.90L276.00,992.60L263.50,1000.30" stroke="#000" stroke-width="1.6" fill="none"/>
<line x1="358.60" y1="992.70" x2="475.50" y2="992.70" stroke="#000" stroke-width="1.6" stroke-linecap="butt"/>
<path d="M463.00,985.00L475.50,992.70L463.00,1000.40" stroke="#000" stroke-width="1.6" fill="none"/>
<line x1="108.70" y1="593.00" x2="115.60" y2="600.00" stroke="#000" stroke-width="1.5" stroke-linecap="butt"/>
<text transform="translate(219.8,657.7) scale(1.045,1)" font-size="21.2">Age group  (years)</text>
<text transform="translate(216.9,1031.5) scale(1.054,1)" font-size="21.2">Age group  (years)</text>
</svg>
</body></html>
